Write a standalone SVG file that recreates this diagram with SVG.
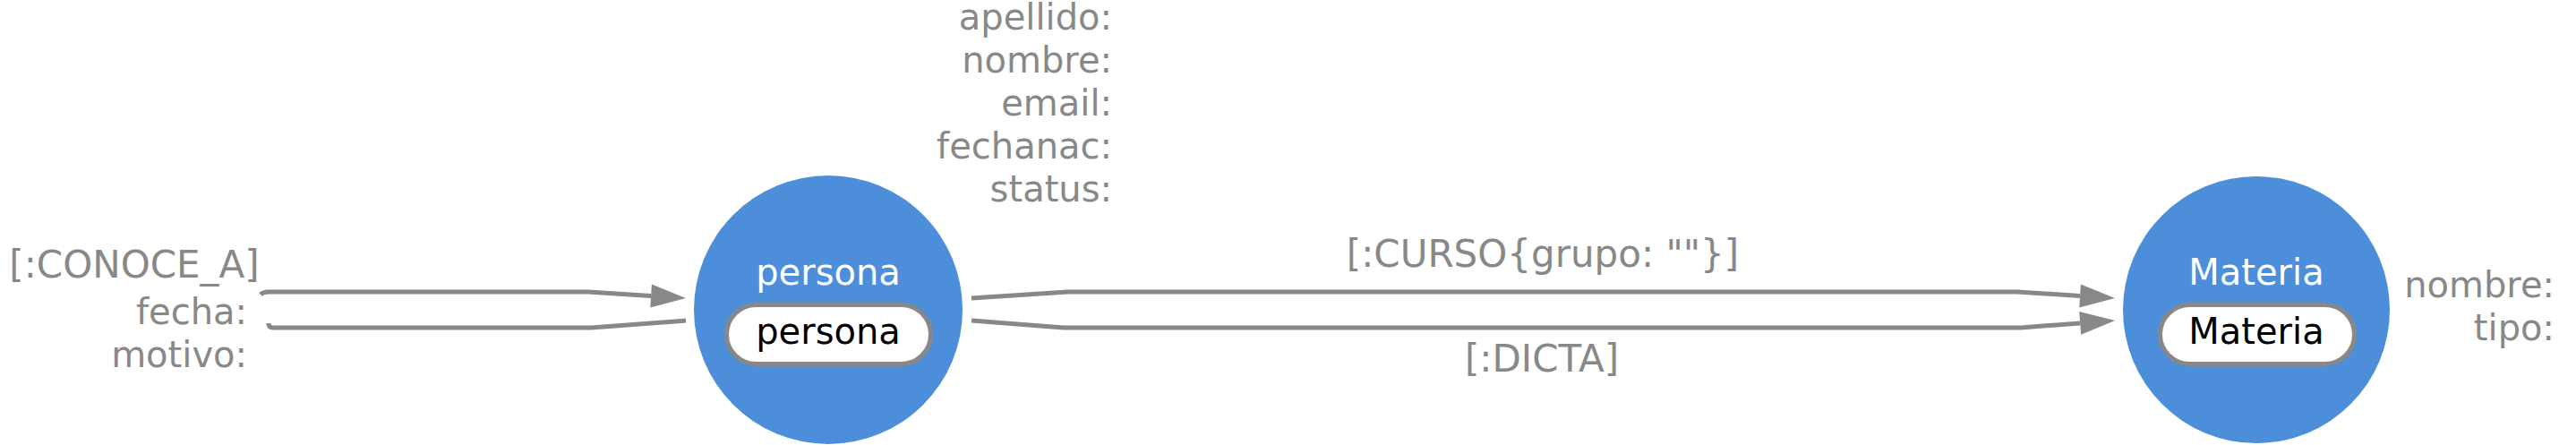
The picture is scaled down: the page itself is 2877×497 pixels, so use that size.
<svg xmlns="http://www.w3.org/2000/svg" width="2877" height="497" viewBox="0 0 2877 497">
<style>
text{font-family:"DejaVu Sans",sans-serif}
.cap{font-size:40px;fill:#ffffff;text-anchor:middle}
.lab{font-size:40px;fill:#000000;text-anchor:middle}
.prop{font-size:40px;fill:#888888;text-anchor:end}
.rel{font-size:42px;fill:#888888;text-anchor:middle}
.node{fill:#4C8EDA}
.pill{fill:#ffffff;stroke:#888888;stroke-width:5}
.edge{fill:none;stroke:#888888;stroke-width:5}
</style>
<defs>
<marker id="arrow" markerUnits="userSpaceOnUse" markerWidth="42" markerHeight="30" viewBox="-1 -15 42 30" refX="0" refY="0" orient="auto">
<path d="M0,-13 L39,0 L0,13 Z" fill="#888888"/>
</marker>
</defs>
<g id="connectors">
<g id="rel-conoce">
<path class="edge" d="M291,329 Q294,326 300,326 L657,326 L727.1,330.5" marker-end="url(#arrow)"/>
<path class="edge" d="M766,358 L660,366 L305,366 Q300,366 300,361"/>
<text class="rel" x="150" y="310">[:CONOCE_A]</text>
<text class="prop" x="276" y="362">fecha:</text>
<text class="prop" x="276" y="410">motivo:</text>
</g>
<g id="rel-curso">
<path class="edge" d="M1085,333 L1192,326 L2253,326 L2323.1,330.5" marker-end="url(#arrow)"/>
<text class="rel" x="1723" y="298">[:CURSO{grupo: ""}]</text>
</g>
<g id="rel-dicta">
<path class="edge" d="M1085,358 L1188,366 L2257,366 L2323.2,360.9" marker-end="url(#arrow)"/>
<text class="rel" x="1722" y="415">[:DICTA]</text>
</g>
</g>
<g id="node-persona">
<circle class="node" cx="925" cy="346" r="150"/>
<text class="cap" x="925" y="318">persona</text>
<rect class="pill" x="811.5" y="340.5" width="228" height="66" rx="33"/>
<text class="lab" x="925" y="384">persona</text>
<text class="prop" x="1242" y="33">apellido:</text>
<text class="prop" x="1242" y="81">nombre:</text>
<text class="prop" x="1242" y="129">email:</text>
<text class="prop" x="1242" y="177">fechanac:</text>
<text class="prop" x="1242" y="225">status:</text>
</g>
<g id="node-materia">
<circle class="node" cx="2520" cy="346" r="149"/>
<text class="cap" x="2520" y="318">Materia</text>
<rect class="pill" x="2412.5" y="340.5" width="217" height="66" rx="33"/>
<text class="lab" x="2520" y="384">Materia</text>
<text class="prop" x="2853" y="332">nombre:</text>
<text class="prop" x="2853" y="380">tipo:</text>
</g>
</svg>
